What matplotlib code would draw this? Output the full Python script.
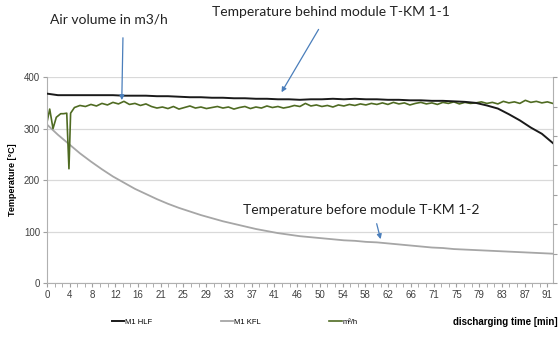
import numpy as np
import matplotlib
matplotlib.use('Agg')
import matplotlib.pyplot as plt
from matplotlib.ticker import AutoMinorLocator

plt.rcParams['font.family'] = ['Liberation Sans', 'DejaVu Sans']

# black: temperature behind module (M1 HLF), every 2 min
hlf_time = list(range(0, 93, 2))
hlf = [368, 365, 365, 365, 365, 365, 365, 364, 364, 364, 363, 363, 362, 361,
       361, 360, 360, 359, 359, 358, 358, 357, 357, 356, 357, 357, 358, 357,
       358, 357, 357, 356, 356, 355, 355, 354, 354, 353, 352, 350, 345, 339,
       328, 316, 302, 290, 272]

# grey: temperature before module (M1 KFL), every 2 min
kfl_time = list(range(0, 93, 2))
kfl = [308, 288, 270, 252, 236, 221, 207, 195, 183, 173, 163, 154, 146, 139,
       132, 126, 120, 115, 110, 105, 101, 97, 94, 91, 89, 87, 85, 83, 82, 80,
       79, 77, 75, 73, 71, 69, 68, 66, 65, 64, 63, 62, 61, 60, 59, 58, 57]

# green: air volume (m³/h), drawn on the temperature scale
air_time = [0, 0.5, 1.1, 1.7, 2.5, 3.0, 3.6, 4.0, 4.3] + list(range(5, 93))
air = [312, 338, 300, 322, 329, 329, 330, 222, 330,
       341, 345, 343, 347, 344, 349,
       346, 351, 348, 353, 347, 349, 345, 348, 343, 340,
       342, 339, 343, 338, 341, 344, 340, 342, 339, 341,
       343, 340, 342, 338, 341, 343, 339, 342, 340, 344,
       341, 343, 340, 342, 345, 343, 349, 344, 346, 343,
       345, 342, 346, 344, 347, 345, 348, 346, 349, 347,
       350, 347, 351, 348, 350, 346, 349, 351, 348, 350,
       347, 351, 349, 352, 348, 351, 349, 350, 352, 349,
       351, 348, 353, 350, 352, 349, 355, 351, 353, 350, 352, 349]

xtick_labels = ['0', '4', '8', '12', '16', '21', '25', '29', '33', '37', '41',
                '46', '50', '54', '58', '62', '66', '71', '75', '79', '83',
                '87', '91']

fig = plt.figure(figsize=(5.59, 3.46), dpi=100)
ax = fig.add_axes([0.084, 0.182, 0.905, 0.595])

l1, = ax.plot(hlf_time, hlf, color='#1a1a1a', lw=1.4, label='M1 HLF', zorder=3)
l2, = ax.plot(kfl_time, kfl, color='#a6a6a6', lw=1.3, label='M1 KFL')
l3, = ax.plot(air_time, air, color='#4f6b22', lw=1.2, label='m³/h')

ax.set_xlim(0, 92)
ax.set_ylim(0, 400)
ax.set_yticks([0, 100, 200, 300, 400])
ax.set_xticks(np.linspace(0, 91, len(xtick_labels)))
ax.set_xticklabels(xtick_labels)
ax.xaxis.set_minor_locator(AutoMinorLocator(3))
ax.grid(axis='y', color='#d9d9d9', lw=0.9)
ax.set_axisbelow(True)
ax.tick_params(axis='both', labelsize=7, colors='#404040')
ax.tick_params(axis='x', which='both', length=3, color='#a0a0a0', pad=2)
ax.tick_params(axis='y', length=3, color='#a0a0a0', pad=2)
for s in ['left', 'bottom', 'right']:
    ax.spines[s].set_color('#b0b0b0')
    ax.spines[s].set_linewidth(0.8)
ax.spines['top'].set_visible(False)
ax.set_ylabel('Temperature [°C]', fontsize=6.5, fontweight='bold', labelpad=5)

# secondary (air volume) axis, ticks only
ax2 = ax.twinx()
ax2.set_ylim(0, 7)
ax2.set_yticks(range(8))
ax2.set_yticklabels([])
ax2.tick_params(axis='y', length=3, color='#a0a0a0')
for s in ['left', 'bottom', 'right', 'top']:
    ax2.spines[s].set_visible(False)

fig.legend(handles=[l1, l2, l3], loc='center', bbox_to_anchor=(0.42, 0.069),
           ncol=3, frameon=False, fontsize=5.5, handlelength=1.6,
           handletextpad=0.1, columnspacing=9)
fig.text(0.998, 0.069, 'discharging time [min]', fontsize=7, fontweight='bold',
         ha='right', va='center')

note = dict(fontsize=10, family=['Lato', 'DejaVu Sans'], color='#222222',
            va='center', ha='left')
fig.text(50 / 559, 1 - 20 / 346, 'Air volume in m3/h', **note)
fig.text(212 / 559, 1 - 12 / 346, 'Temperature behind module T-KM 1-1', **note)
fig.text(243 / 559, 1 - 210 / 346, 'Temperature before module T-KM 1-2', **note)

arr = dict(arrowstyle='-|>', color='#4a7ebb', lw=0.9, mutation_scale=7)
ax.annotate('', xy=(13.6, 350), xytext=(123, 346 - 35),
            textcoords='figure pixels', arrowprops=arr)
ax.annotate('', xy=(42.4, 366), xytext=(320, 346 - 27),
            textcoords='figure pixels', arrowprops=arr)
ax.annotate('', xy=(60.8, 80), xytext=(376, 346 - 221),
            textcoords='figure pixels', arrowprops=arr)

plt.savefig('out.png', dpi=100)
